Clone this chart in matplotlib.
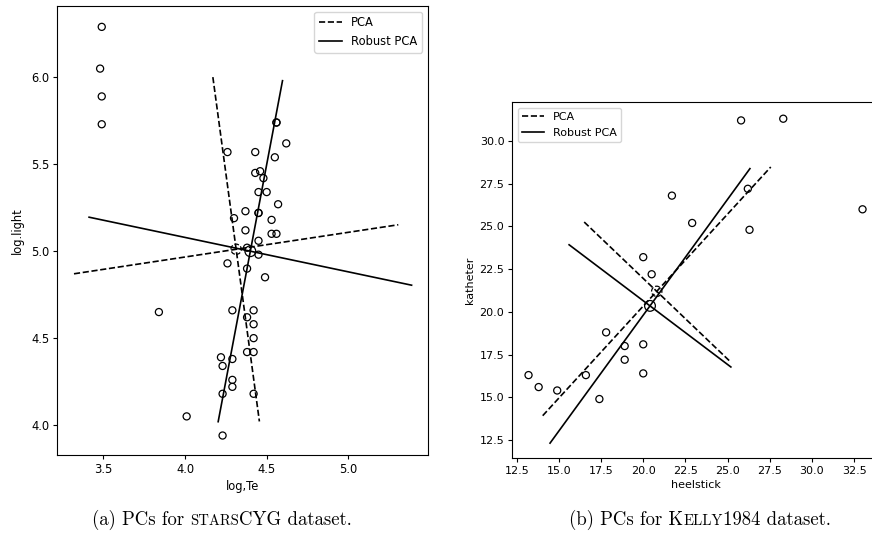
import numpy as np
import matplotlib
matplotlib.use('Agg')
import matplotlib.pyplot as plt
from matplotlib.offsetbox import TextArea, HPacker, AnchoredOffsetbox

# starsCYG data
log_te = [4.37, 4.56, 4.26, 4.56, 4.30, 4.46, 3.84, 4.57, 4.26, 4.37, 3.49, 4.43,
          4.48, 4.01, 4.29, 4.42, 4.23, 4.42, 4.23, 3.49, 4.29, 4.29, 4.42, 4.49,
          4.38, 4.42, 4.29, 4.38, 4.22, 3.48, 4.38, 4.56, 4.45, 3.49, 4.23, 4.62,
          4.53, 4.45, 4.53, 4.43, 4.38, 4.45, 4.50, 4.45, 4.55, 4.45, 4.42]
log_light = [5.23, 5.74, 4.93, 5.74, 5.19, 5.46, 4.65, 5.27, 5.57, 5.12, 5.73, 5.45,
             5.42, 4.05, 4.26, 4.58, 3.94, 4.18, 4.18, 5.89, 4.38, 4.22, 4.42, 4.85,
             5.02, 4.66, 4.66, 4.90, 4.39, 6.05, 4.42, 5.10, 5.22, 6.29, 4.34, 5.62,
             5.10, 5.22, 5.18, 5.57, 4.62, 5.06, 5.34, 5.34, 5.54, 4.98, 4.50]

# components (center, and half-length vectors)
stars_pca_center = [4.313, 5.011]
stars_pca_comps = [[0.993, 0.141], [0.1425, -0.99]]
stars_rob_center = [4.400, 5.000]
stars_rob_comps = [[0.9875, -0.1955], [0.197, 0.9805]]

# Kelly1984 data
heelstick = [13.2, 13.8, 14.9, 16.6, 17.4, 17.8, 18.9, 18.9, 20.0, 20.0,
             21.7, 22.9, 26.2, 26.3, 33.0, 20.0, 20.5, 25.8, 28.3]
katheter = [16.3, 15.6, 15.4, 16.3, 14.9, 18.8, 18.0, 17.2, 18.1, 16.4,
            26.8, 25.2, 27.2, 24.8, 26.0, 23.2, 22.2, 31.2, 31.3]

kelly_pca_center = [20.8, 21.2]
kelly_pca_comps = [[6.76, 7.275], [4.3, -4.055]]
kelly_rob_center = [20.4, 20.35]
kelly_rob_comps = [[5.925, 8.03], [4.795, -3.575]]

W, H = 872, 547
fig = plt.figure(figsize=(W / 100, H / 100), dpi=100)

ax1 = fig.add_axes([57 / W, 1 - 455 / H, (428 - 57) / W, (455 - 6) / H])
ax2 = fig.add_axes([512 / W, 1 - 458 / H, 367.4 / W, (458 - 102.3) / H])

lw = 1.2


def draw(ax, x, y, pc, pcomps, rc, rcomps, fs):
    ax.scatter(x, y, s=26, facecolors='none', edgecolors='black', linewidths=0.9, zorder=3)
    for i, comp in enumerate(pcomps):
        c = np.array(pc)
        v = np.array(comp)
        ax.plot([c[0] - v[0], c[0] + v[0]], [c[1] - v[1], c[1] + v[1]], '--', color='black',
                lw=lw, label='PCA' if i == 0 else None)
    for i, comp in enumerate(rcomps):
        c = np.array(rc)
        v = np.array(comp)
        ax.plot([c[0] - v[0], c[0] + v[0]], [c[1] - v[1], c[1] + v[1]], '-', color='black',
                lw=lw, label='Robust PCA' if i == 0 else None)
    # centers: classical (dashed ring) and robust (solid ring)
    ax.scatter([pc[0]], [pc[1]], s=55, facecolors='none', edgecolors='black',
               linewidths=0.9, linestyles='--', zorder=4)
    ax.scatter([rc[0]], [rc[1]], s=60, facecolors='none', edgecolors='black',
               linewidths=0.9, zorder=4)
    ax.tick_params(labelsize=fs, length=3, width=0.8, pad=2.5)
    for s in ax.spines.values():
        s.set_linewidth(0.8)


fs1 = 8.3
draw(ax1, log_te, log_light, stars_pca_center, stars_pca_comps, stars_rob_center, stars_rob_comps, fs1)
ax1.set_xlim(3.216, 5.488)
ax1.set_ylim(3.828, 6.41)
ax1.set_xticks([3.5, 4.0, 4.5, 5.0])
ax1.set_yticks([4.0, 4.5, 5.0, 5.5, 6.0])
ax1.set_xlabel('log,Te', fontsize=fs1, labelpad=3)
ax1.set_ylabel('log.light', fontsize=fs1, labelpad=5)
ax1.legend(loc='upper right', fontsize=fs1)

fs2 = 8.0
draw(ax2, heelstick, katheter, kelly_pca_center, kelly_pca_comps, kelly_rob_center, kelly_rob_comps, fs2)
ax2.set_xlim(12.22, 34.0)
ax2.set_ylim(11.45, 32.26)
ax2.set_xticks(np.arange(12.5, 33, 2.5))
ax2.set_yticks(np.arange(12.5, 31, 2.5))
ax2.set_xlabel('heelstick', fontsize=fs2, labelpad=3)
ax2.set_ylabel('katheter', fontsize=fs2, labelpad=3)
ax2.legend(loc='upper left', fontsize=fs2)

# captions with small caps imitation
cap = 13.5
sc = cap * 0.78


def caption(parts, xc, yc):
    boxes = [TextArea(t, textprops=dict(family='cmr10', size=s)) for t, s in parts]
    pack = HPacker(children=boxes, align='baseline', pad=0, sep=0)
    ab = AnchoredOffsetbox(loc='center', child=pack, pad=0, frameon=False,
                           bbox_to_anchor=(xc / W, 1 - yc / H), bbox_transform=fig.transFigure,
                           borderpad=0)
    fig.add_artist(ab)


caption([('(a) PCs for ', cap), ('STARS', sc), ('CYG dataset.', cap)], 222, 520)
caption([('(b) PCs for K', cap), ('ELLY', sc), ('1984 dataset.', cap)], 700, 520)

fig.savefig('out.png', dpi=100)
